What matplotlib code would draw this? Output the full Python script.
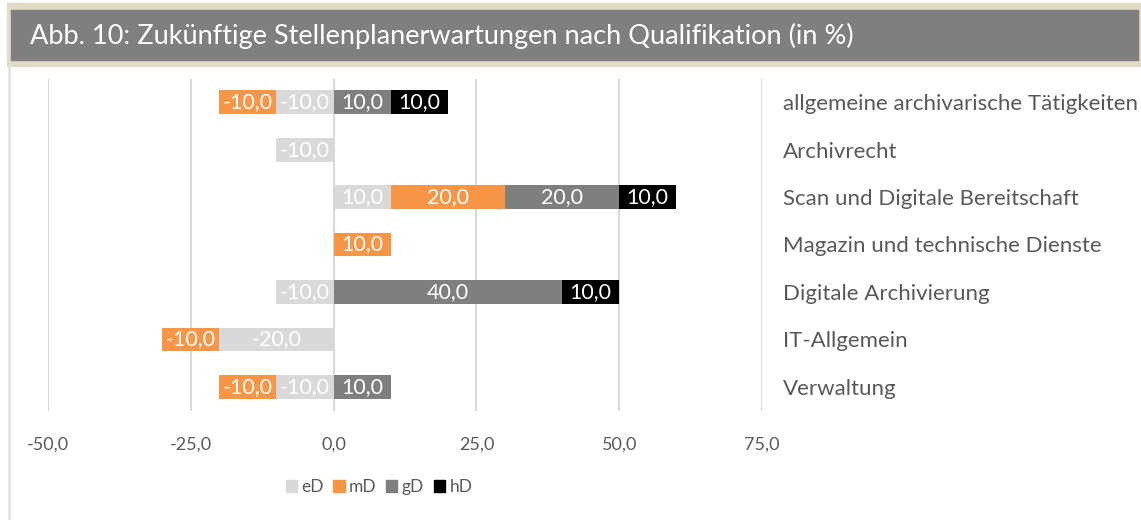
import numpy as np
import matplotlib.pyplot as plt
from matplotlib.patches import Rectangle, Patch
from matplotlib.lines import Line2D

# ------------------------------------------------------------------
# DATA
# ------------------------------------------------------------------
categories = ["allgemeine archivarische Tätigkeiten", "Archivrecht",
              "Scan und Digitale Bereitschaft", "Magazin und technische Dienste",
              "Digitale Archivierung", "IT-Allgemein", "Verwaltung"]
series = ["eD", "mD", "gD", "hD"]
eD = [-10, -10, 10, 0, -10, -20, -10]
mD = [-10, 0, 20, 10, 0, -10, -10]
gD = [10, 0, 20, 0, 40, 0, 10]
hD = [10, 0, 10, 0, 10, 0, 0]
xticks = [-50, -25, 0, 25, 50, 75]

title = "Abb. 10: Zukünftige Stellenplanerwartungen nach Qualifikation (in %)"


def fmt(v):
    return "{:.1f}".format(v).replace(".", ",")


def main():
    plt.rcParams['font.family'] = ['Lato', 'DejaVu Sans']
    colors = {"eD": "#d9d9d9", "mD": "#f79646", "gD": "#7f7f7f", "hD": "#000000"}
    values = {"eD": eD, "mD": mD, "gD": gD, "hD": hD}
    txtcol = "#595959"

    W, H = 1141, 520
    fig = plt.figure(figsize=(W / 100, H / 100), dpi=100)

    # frame / title bar
    fig.patches.append(Rectangle((7 / W, 1 - 66 / H), 1 - 7 / W, 63 / H,
                                 transform=fig.transFigure, color="#e1dcc7", zorder=0))
    fig.patches.append(Rectangle((11 / W, 1 - 60 / H), 1127 / W, 50 / H,
                                 transform=fig.transFigure, color="#7f7f7f", zorder=1))
    fig.lines.append(Line2D([8.5 / W, 8.5 / W], [0, 1 - 66 / H],
                            transform=fig.transFigure, color="#e3e3e3", lw=2))
    fig.text(30 / W, 1 - 36 / H, title, color="white", fontsize=19.5,
             va="center", ha="left")

    ax = fig.add_axes([48 / W, 1 - 410.5 / H, 714 / W, 332 / H])
    y = np.arange(len(categories))
    pos = np.zeros(len(categories))
    neg = np.zeros(len(categories))
    for s in series:
        vals = np.array(values[s], dtype=float)
        left = np.where(vals >= 0, pos, neg)
        ax.barh(y, vals, left=left, height=0.5, color=colors[s], zorder=3)
        for i, v in enumerate(vals):
            if v != 0:
                ax.text(left[i] + v / 2, y[i], fmt(v), color="white", fontsize=15.5,
                        ha="center", va="center", zorder=4)
        pos = np.where(vals >= 0, pos + vals, pos)
        neg = np.where(vals < 0, neg + vals, neg)

    ax.set_xlim(-50, 75)
    ax.set_ylim(len(categories) - 0.5, -0.5)
    ax.set_xticks(xticks)
    ax.set_xticklabels([fmt(t) for t in xticks])
    ax.set_yticks(y)
    ax.set_yticklabels(categories)
    ax.yaxis.tick_right()
    ax.tick_params(axis="y", length=0, pad=15, labelsize=16, labelcolor=txtcol)
    ax.tick_params(axis="x", length=0, pad=19, labelsize=13, labelcolor=txtcol)
    ax.grid(axis="x", color="#d9d9d9", lw=1.5, zorder=0)
    for sp in ax.spines.values():
        sp.set_visible(False)

    handles = [Patch(color=colors[s], label=s) for s in series]
    fig.legend(handles=handles, loc="center", bbox_to_anchor=(379 / W, 1 - 487 / H),
               ncol=4, frameon=False, handlelength=0.65, handleheight=0.65,
               columnspacing=0.55, handletextpad=0.25, fontsize=12.5, labelcolor=txtcol)

    plt.savefig("out.png")


if __name__ == "__main__":
    main()
